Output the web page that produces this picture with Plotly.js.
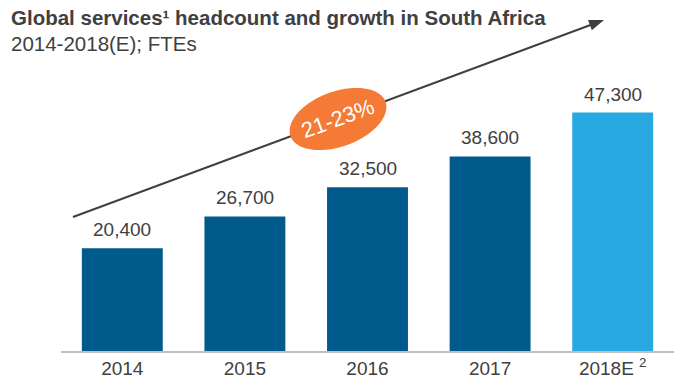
<!DOCTYPE html>
<html>
<head>
<meta charset="utf-8">
<script src="https://cdn.plot.ly/plotly-3.0.1.min.js"></script>
<style>html,body{margin:0;padding:0;background:#fff;}#chart{width:695px;height:390px;}</style>
</head>
<body>
<div id="chart"></div>
<script>
// Data
const categories = ["2014", "2015", "2016", "2017", "2018E"];
const tickLabels = ["2014", "2015", "2016", "2017", "2018E <sup>2</sup>"];
const headcount = [20400, 26700, 32500, 38600, 47300];
const barColors = ["#005a8c", "#005a8c", "#005a8c", "#005a8c", "#27a8e0"];
const growthLabel = "21-23%";

// Layout geometry (pixels)
const W = 695, H = 390;
const M = {l: 61, r: 21, t: 60, b: 39};
const PW = W - M.l - M.r, PH = H - M.t - M.b;
const px2x = p => (p - M.l) / PW;
const py2y = p => (H - M.b - p) / PH;
const pt = (X, Y) => px2x(X).toFixed(5) + "," + py2y(Y).toFixed(5);

// rotated ellipse path (decoration)
function ellipsePath(cx, cy, a, b, deg) {
  const t = deg * Math.PI / 180;
  let d = "";
  const n = 90;
  for (let i = 0; i <= n; i++) {
    const u = 2 * Math.PI * i / n;
    const ex = a * Math.cos(u), ey = b * Math.sin(u);
    const X = cx + ex * Math.cos(t) - ey * Math.sin(t);
    const Y = cy + ex * Math.sin(t) + ey * Math.cos(t);
    d += (i === 0 ? "M" : "L") + pt(X, Y);
  }
  return d + "Z";
}

// trend arrow (decoration) in pixels
const A0 = [73, 217], A1 = [604, 20];
const len = Math.hypot(A1[0] - A0[0], A1[1] - A0[1]);
const ux = (A1[0] - A0[0]) / len, uy = (A1[1] - A0[1]) / len;
const headL = 15, headW = 5.5;
const bx = A1[0] - headL * ux, by = A1[1] - headL * uy;
const arrowHead = "M" + pt(A1[0], A1[1]) +
  "L" + pt(bx - uy * headW, by + ux * headW) +
  "L" + pt(bx + uy * headW, by - ux * headW) + "Z";

const trace = {
  type: "bar",
  x: categories,
  y: headcount,
  marker: {color: barColors},
  hoverinfo: "skip"
};

// value labels positioned on the category axis by index
const valueLabels = categories.map((c, i) => ({
  xref: "x", yref: "y", x: i, y: headcount[i],
  xanchor: "center", yanchor: "bottom", yshift: 6,
  text: headcount[i].toLocaleString("en-US"), showarrow: false,
  font: {size: 19, color: "#404040"}
}));

const layout = {
  width: W, height: H,
  margin: M,
  paper_bgcolor: "#ffffff",
  plot_bgcolor: "#ffffff",
  showlegend: false,
  bargap: 0.34,
  font: {family: "Liberation Sans, Arial, sans-serif", color: "#404040"},
  xaxis: {
    type: "category",
    tickvals: categories,
    ticktext: tickLabels,
    tickfont: {size: 19, color: "#404040"},
    showline: true, linecolor: "#bfbfbf", linewidth: 1.5,
    showgrid: false, zeroline: false, ticks: "",
    range: [-0.5, 4.5],
    fixedrange: true
  },
  yaxis: {
    range: [0, 57740],
    visible: false,
    showgrid: false, zeroline: false,
    fixedrange: true
  },
  shapes: [
    {
      type: "line", xref: "paper", yref: "paper",
      x0: px2x(A0[0]), y0: py2y(A0[1]), x1: px2x(bx + ux * 2), y1: py2y(by + uy * 2),
      line: {color: "#404040", width: 2}, layer: "above"
    },
    {
      type: "path", xref: "paper", yref: "paper",
      path: arrowHead, fillcolor: "#404040", line: {width: 0}, layer: "above"
    },
    {
      type: "path", xref: "paper", yref: "paper",
      path: ellipsePath(338, 119, 50.5, 27.5, -20),
      fillcolor: "#f47a35", line: {width: 0}, layer: "above"
    }
  ],
  annotations: valueLabels.concat([
    {
      xref: "paper", yref: "paper",
      x: px2x(338), y: py2y(119), xanchor: "center", yanchor: "middle",
      text: growthLabel, showarrow: false, textangle: -20,
      font: {size: 22, color: "#ffffff"}
    },
    {
      xref: "paper", yref: "paper",
      x: px2x(9), y: py2y(17), xanchor: "left", yanchor: "middle",
      text: "<b>Global services¹ headcount and growth in South Africa</b>",
      showarrow: false, font: {size: 20.5, color: "#404040"}
    },
    {
      xref: "paper", yref: "paper",
      x: px2x(9), y: py2y(43), xanchor: "left", yanchor: "middle",
      text: "2014-2018(E); FTEs",
      showarrow: false, font: {size: 20.5, color: "#404040"}
    }
  ])
};

Plotly.newPlot("chart", [trace], layout, {displayModeBar: false, staticPlot: true});
</script>
</body>
</html>
